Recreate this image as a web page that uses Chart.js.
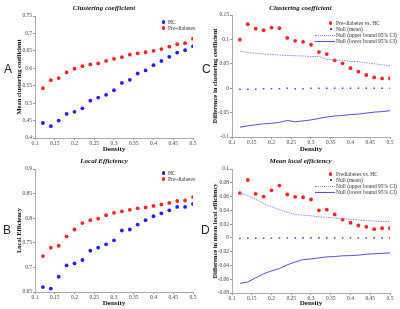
<!DOCTYPE html>
<html>
<head>
<meta charset="utf-8">
<script src="https://cdn.jsdelivr.net/npm/chart.js@4"></script>
<style>
  body { margin: 0; background: #fff; }
  #wrap { position: relative; width: 400px; height: 309px; overflow: hidden; }
  .panel { position: absolute; }
  .letter { position: absolute; font-family: "Liberation Sans", Arial, sans-serif; font-size: 12px; color: #222; }
  .legend { position: absolute; font-family: "Liberation Serif", "Times New Roman", serif; font-size: 5.5px; color: #333; line-height: 6px; }
  .legend div { position: relative; height: 6px; white-space: nowrap; }
  .dot { position: absolute; width: 3.5px; height: 3.5px; border-radius: 50%; top: 1.3px; }
  .sq { position: absolute; width: 2px; height: 2px; top: 2px; }
  .ln { position: absolute; width: 20px; top: 2.5px; }
</style>
</head>
<body>
<div id="wrap">
  <div class="panel" style="left:0;top:0;width:200px;height:155px"><canvas id="chartA"></canvas></div>
  <div class="panel" style="left:200px;top:0;width:200px;height:155px"><canvas id="chartC"></canvas></div>
  <div class="panel" style="left:0;top:150px;width:200px;height:159px"><canvas id="chartB"></canvas></div>
  <div class="panel" style="left:200px;top:150px;width:200px;height:159px"><canvas id="chartD"></canvas></div>

  <div class="letter" style="left:4px;top:62px">A</div>
  <div class="letter" style="left:202px;top:62px">C</div>
  <div class="letter" style="left:3px;top:223px">B</div>
  <div class="letter" style="left:201px;top:223px">D</div>

  <div class="legend" style="left:168px;top:19px">
    <div><span class="dot" style="left:-6.5px;background:#1f1fff"></span>HC</div>
    <div><span class="dot" style="left:-6.5px;background:#ff2020"></span>Pre-diabetes</div>
  </div>
  <div class="legend" style="left:168px;top:170px">
    <div><span class="dot" style="left:-6.5px;background:#1f1fff"></span>HC</div>
    <div><span class="dot" style="left:-6.5px;background:#ff2020"></span>Pre-diabetes</div>
  </div>
  <div class="legend" style="left:336px;top:20px">
    <div><span class="dot" style="left:-7.5px;background:#ff2020"></span>Pre-diabetes vs. HC</div>
    <div><span class="sq" style="left:-6.5px;background:#4a4aff"></span>Null (mean)</div>
    <div><span class="ln" style="left:-21px;border-top:1px dotted #8a8aff"></span>Null (upper bound 95% CI)</div>
    <div><span class="ln" style="left:-21px;border-top:1px solid #5a4ae0"></span>Null (lower bound 95% CI)</div>
  </div>
  <div class="legend" style="left:336px;top:171px">
    <div><span class="dot" style="left:-7.5px;background:#ff2020"></span>Prediabetes vs. HC</div>
    <div><span class="sq" style="left:-6.5px;background:#4a4aff"></span>Null (mean)</div>
    <div><span class="ln" style="left:-21px;border-top:1px dotted #8a8aff"></span>Null (upper bound 95% CI)</div>
    <div><span class="ln" style="left:-21px;border-top:1px solid #5a4ae0"></span>Null (lower bound 95% CI)</div>
  </div>
</div>

<script>
// network densities (x axis of every panel)
const density = [0.12, 0.14, 0.16, 0.18, 0.20, 0.22, 0.24, 0.26, 0.28, 0.30,
                 0.32, 0.34, 0.36, 0.38, 0.40, 0.42, 0.44, 0.46, 0.48, 0.50];

// A: mean clustering coefficient
const clustHC  = [0.443, 0.434, 0.450, 0.469, 0.475, 0.485, 0.507, 0.516, 0.524, 0.537,
                  0.558, 0.567, 0.585, 0.594, 0.609, 0.621, 0.633, 0.645, 0.652, 0.663];
const clustPre = [0.543, 0.566, 0.572, 0.588, 0.599, 0.606, 0.611, 0.614, 0.621, 0.627,
                  0.632, 0.639, 0.643, 0.646, 0.650, 0.655, 0.662, 0.669, 0.672, 0.685];

// B: local efficiency
const effHC  = [0.660, 0.657, 0.681, 0.704, 0.708, 0.715, 0.734, 0.740, 0.747, 0.755,
                0.775, 0.777, 0.787, 0.796, 0.804, 0.810, 0.816, 0.823, 0.823, 0.829];
const effPre = [0.723, 0.740, 0.744, 0.763, 0.777, 0.790, 0.796, 0.799, 0.806, 0.811,
                0.814, 0.817, 0.820, 0.822, 0.825, 0.828, 0.831, 0.835, 0.836, 0.843];

// C: difference in clustering coefficient
const clustDiff  = [0.0995, 0.131, 0.122, 0.119, 0.124, 0.123, 0.103, 0.097, 0.095, 0.089,
                    0.074, 0.070, 0.057, 0.051, 0.041, 0.034, 0.027, 0.022, 0.020, 0.020];
const clustNull  = [-0.002, -0.002, -0.002, -0.001, -0.001, -0.001, 0.000, -0.001, -0.001, 0.000,
                    0.000, 0.000, 0.000, 0.000, 0.000, 0.000, 0.000, 0.000, 0.000, 0.000];
const clustUpper = [0.076, 0.073, 0.0715, 0.070, 0.069, 0.068, 0.067, 0.0665, 0.066, 0.065,
                    0.065, 0.059, 0.058, 0.057, 0.055, 0.054, 0.052, 0.050, 0.048, 0.046];
const clustLower = [-0.080, -0.077, -0.075, -0.073, -0.072, -0.070, -0.066, -0.069, -0.067, -0.065,
                    -0.062, -0.059, -0.057, -0.056, -0.054, -0.053, -0.051, -0.049, -0.048, -0.046];

// D: difference in mean local efficiency
const effDiff  = [0.065, 0.084, 0.064, 0.060, 0.069, 0.076, 0.063, 0.0596, 0.059, 0.0557,
                  0.040, 0.041, 0.034, 0.0266, 0.022, 0.018, 0.016, 0.0126, 0.014, 0.014];
const effNull  = [-0.001, -0.0005, -0.0005, -0.0005, -0.0005, -0.0003, -0.0003, -0.0003, 0.000, 0.000,
                  0.000, 0.000, 0.000, 0.000, 0.000, 0.000, 0.000, 0.000, 0.000, 0.000];
const effUpper = [0.065, 0.0615, 0.056, 0.050, 0.045, 0.041, 0.037, 0.034, 0.033, 0.032,
                  0.0305, 0.030, 0.029, 0.028, 0.027, 0.026, 0.025, 0.0245, 0.024, 0.0237];
const effLower = [-0.066, -0.064, -0.058, -0.052, -0.048, -0.0445, -0.039, -0.035, -0.0315, -0.0305,
                  -0.029, -0.0276, -0.027, -0.026, -0.0257, -0.025, -0.0237, -0.023, -0.0225, -0.0218];

const RED = '#ff2020';
const BLUE = '#1f1fff';
const SERIF = '"Liberation Serif", "Times New Roman", serif';

const pts = ys => ys.map((y, i) => ({ x: density[i], y: y }));
const fmt = v => String(Number(v.toFixed(3)));

function dots(ys, color, r) {
    return { type: 'scatter', data: pts(ys), backgroundColor: color, borderColor: color,
             pointRadius: r || 1.9, pointBorderWidth: 0, pointHoverRadius: 0 };
}
function nullMean(ys) {
    return { type: 'scatter', data: pts(ys), backgroundColor: '#4a4aff', borderColor: '#4a4aff',
             pointStyle: 'rect', pointRadius: 1.1, pointBorderWidth: 0 };
}
function line(ys, color, dash) {
    return { type: 'line', data: pts(ys), borderColor: color, borderWidth: 1, borderDash: dash || [],
             pointRadius: 0, fill: false, tension: 0 };
}

function makePanel(id, title, yLabel, yMin, yMax, yStep, datasets, box) {
    new Chart(document.getElementById(id), {
        type: 'scatter',
        data: { datasets: datasets },
        options: {
            responsive: true,
            maintainAspectRatio: false,
            animation: false,
            events: [],
            layout: { padding: { left: box.padLeft, right: box.padRight, top: 0, bottom: 2 } },
            plugins: {
                legend: { display: false },
                tooltip: { enabled: false },
                title: {
                    display: true, text: title, color: '#111',
                    font: { family: SERIF, size: 7, weight: 'bold', style: 'italic' },
                    padding: { top: box.titleTop, bottom: box.titleBottom }
                }
            },
            scales: {
                x: {
                    type: 'linear', min: 0.1, max: 0.5,
                    afterFit: s => { s.height = box.xHeight; },
                    ticks: { stepSize: 0.05, callback: fmt, color: '#444', padding: 0,
                             maxRotation: 0, autoSkip: false,
                             font: { family: SERIF, size: 5.5 } },
                    grid: { drawOnChartArea: false, tickLength: 2, color: '#999' },
                    border: { color: '#aaa' },
                    title: { display: true, text: 'Density', color: '#111', padding: 0,
                             font: { family: SERIF, size: 7, weight: 'bold' } }
                },
                y: {
                    type: 'linear', min: yMin, max: yMax,
                    afterFit: s => { s.width = box.yWidth; },
                    ticks: { stepSize: yStep, callback: fmt, color: '#444', padding: 1,
                             autoSkip: false, font: { family: SERIF, size: 5.5 } },
                    grid: { drawOnChartArea: false, tickLength: 2, color: '#999' },
                    border: { color: '#aaa' },
                    title: { display: true, text: yLabel, color: '#111', padding: 0,
                             font: { family: SERIF, size: 6.5, weight: 'bold' } }
                }
            }
        }
    });
}

makePanel('chartA', 'Clustering coefficient', 'Mean clustering coefficient', 0.4, 0.75, 0.05,
    [dots(clustHC, BLUE), dots(clustPre, RED)],
    { padLeft: 15, padRight: 7, yWidth: 20, xHeight: 15, titleTop: 4, titleBottom: 3.6 });

makePanel('chartC', 'Clustering coefficient', 'Difference in clustering coefficient', -0.1, 0.15, 0.05,
    [line(clustUpper, '#8a8aff', [1.5, 1]), line(clustLower, '#5a4ae0'),
     nullMean(clustNull), dots(clustDiff, RED)],
    { padLeft: 11, padRight: 10, yWidth: 21, xHeight: 16, titleTop: 4, titleBottom: 2.6 });

makePanel('chartB', 'Local Efficiency', 'Local Efficiency', 0.65, 0.9, 0.05,
    [dots(effHC, BLUE), dots(effPre, RED)],
    { padLeft: 15, padRight: 7, yWidth: 20, xHeight: 15, titleTop: 7, titleBottom: 3.6 });

makePanel('chartD', 'Mean local efficiency', 'Difference in mean local efficiency', -0.08, 0.1, 0.02,
    [line(effUpper, '#8a8aff', [1.5, 1]), line(effLower, '#5a4ae0'),
     nullMean(effNull), dots(effDiff, RED)],
    { padLeft: 11, padRight: 10, yWidth: 21, xHeight: 14, titleTop: 7, titleBottom: 3.6 });
</script>
</body>
</html>
